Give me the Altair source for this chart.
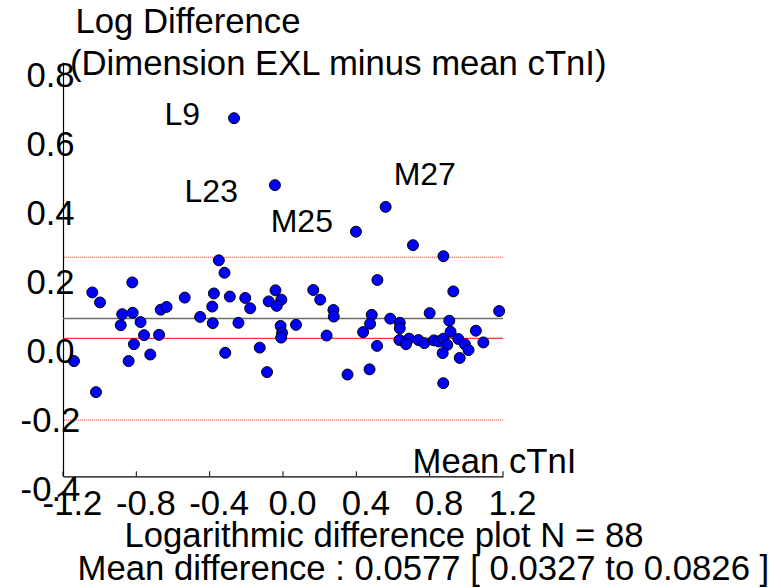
import altair as alt
import pandas as pd

# ---- data ----
mean_ctni = [
    -1.140, -1.020, -1.040, -0.998, -0.822, -0.877, -0.885, -0.820, -0.777, -0.758,
    -0.813, -0.842, -0.724, -0.676, -0.667, -0.635, -0.536, -0.452, -0.350, -0.319,
    -0.377, -0.386, -0.383, -0.315, -0.290, -0.206, -0.179, -0.243, -0.127, -0.087,
    -0.041, -0.078, -0.009, -0.034, -0.013, -0.005, -0.010, 0.071, 0.165, 0.203,
    0.238, 0.275, 0.277, 0.709, 0.875, 0.515, 0.929, 0.484, 0.475, 0.437,
    0.513, 0.352, 0.472, 0.585, 0.637, 0.637, 0.635, 0.688, 0.671, 0.739,
    0.771, 0.800, 0.823, 0.849, 0.875, 0.896, 0.871, 0.907, 0.914, 0.956,
    0.992, 1.012, 0.964, 0.874, 1.052, 1.179, 1.093,
    -0.267, -0.044, 0.398, 0.560,
]
log_diff = [
    -0.066, -0.156, 0.133, 0.104, 0.162, 0.070, 0.038, 0.074, 0.047, 0.009,
    -0.017, -0.066, -0.047, 0.010, 0.083, 0.091, 0.118, 0.062, 0.226, 0.190,
    0.130, 0.092, 0.044, -0.042, 0.121, 0.117, 0.087, 0.045, -0.027, -0.098,
    0.139, 0.107, 0.112, 0.094, 0.036, 0.016, 0.002, 0.039, 0.140, 0.112,
    0.008, 0.082, 0.063, 0.270, 0.238, 0.169, 0.136, 0.068, 0.042, 0.018,
    -0.022, -0.105, -0.090, 0.057, 0.045, 0.029, -0.005, -0.001, -0.017, -0.005,
    -0.014, 0.073, -0.006, -0.009, -0.001, -0.019, -0.043, 0.051, 0.019, -0.002,
    -0.017, -0.034, -0.057, -0.130, 0.022, 0.079, -0.012,
    0.638, 0.444, 0.309, 0.381,
]

outlier_names = ["L9", "L23", "M25", "M27"]
outlier_x = [-0.267, -0.044, 0.398, 0.560]
outlier_y = [0.638, 0.444, 0.309, 0.381]

x_ticks = [-1.2, -0.8, -0.4, 0.0, 0.4, 0.8, 1.2]
x_tick_labels = ["-1.2", "-0.8", "-0.4", "0.0", "0.4", "0.8", "1.2"]
y_ticks = [-0.4, -0.2, 0.0, 0.2, 0.4, 0.6, 0.8]
y_tick_labels = ["-0.4", "-0.2", "0.0", "0.2", "0.4", "0.6", "0.8"]

zero_line = [0.0]
mean_difference = [0.0577]
limit_lines = [0.235, -0.237]

y_title_lines = ["Log Difference", "(Dimension EXL minus mean cTnI)"]
x_title = "Mean cTnI"
caption_lines = [
    "Logarithmic difference plot N = 88",
    "Mean difference : 0.0577 [ 0.0327 to 0.0826 ]",
]

# ---- chart ----
FONT = "Liberation Sans"
FS = 34.7
W, H = 440, 414

xs = alt.Scale(domain=[-1.2, 1.2], nice=False, zero=False)
ys = alt.Scale(domain=[-0.4, 0.8], nice=False, zero=False)

pts = pd.DataFrame({"x": mean_ctni, "y": log_diff})
points = alt.Chart(pts).mark_circle(
    size=120, color="#0000ff", opacity=1, stroke="black", strokeWidth=1
).encode(
    x=alt.X("x:Q", scale=xs, axis=alt.Axis(labels=False, ticks=False, title=None,
                                           grid=False, domainColor="black", domainWidth=1.2)),
    y=alt.Y("y:Q", scale=ys, axis=alt.Axis(labels=False, ticks=False, title=None,
                                           grid=False, domainColor="black", domainWidth=1.2)),
)

def hline(values, **kw):
    return alt.Chart(pd.DataFrame({"v": values})).mark_rule(**kw).encode(
        y=alt.Y("v:Q", scale=ys)
    )

zero_rule = hline(zero_line, color="#ff0000", strokeWidth=1)
mean_rule = hline(mean_difference, color="#6e6e6e", strokeWidth=1.5)
limit_rule = hline(limit_lines, color="#ff4040", strokeWidth=1, strokeDash=[1, 1])

xt = pd.DataFrame({"v": x_ticks, "t": x_tick_labels})
x_tick_marks = alt.Chart(xt).mark_rule(color="black", strokeWidth=1).encode(
    x=alt.X("v:Q", scale=xs), y=alt.value(H - 5), y2=alt.value(H)
)
x_labels = alt.Chart(xt).mark_text(
    font=FONT, fontSize=FS, align="center", baseline="alphabetic", dx=9.5, color="black"
).encode(x=alt.X("v:Q", scale=xs), y=alt.value(452.7), text="t:N")

yt = pd.DataFrame({"v": y_ticks, "t": y_tick_labels})
y_labels = alt.Chart(yt).mark_text(
    font=FONT, fontSize=FS, align="center", baseline="alphabetic", dy=25, color="black"
).encode(y=alt.Y("v:Q", scale=ys), x=alt.value(-12.5), text="t:N")

od = pd.DataFrame({"name": outlier_names, "x": outlier_x, "y": outlier_y})
label_style = {
    "L9": dict(align="right", dx=-34, dy=7),
    "L23": dict(align="right", dx=-37, dy=17),
    "M25": dict(align="right", dx=-23, dy=0),
    "M27": dict(align="left", dx=8, dy=-22),
}
outlier_labels = [
    alt.Chart(od[od["name"] == n]).mark_text(
        font=FONT, fontSize=32, baseline="alphabetic", color="black", **st
    ).encode(x=alt.X("x:Q", scale=xs), y=alt.Y("y:Q", scale=ys), text="name:N")
    for n, st in label_style.items()
]

def free_text(txt, px, py):
    return alt.Chart(pd.DataFrame({"t": [txt]})).mark_text(
        font=FONT, fontSize=FS, align="left", baseline="alphabetic", color="black"
    ).encode(x=alt.value(px), y=alt.value(py), text="t:N")

texts = [
    free_text(y_title_lines[0], 12.5, -29.3),
    free_text(y_title_lines[1], 7, 12.7),
    free_text(x_title, 349.5, 410.7),
    free_text(caption_lines[0], 61.5, 484.7),
    free_text(caption_lines[1], 14.5, 517.7),
]

chart = alt.layer(
    limit_rule, mean_rule, zero_rule, points, x_tick_marks, x_labels, y_labels,
    *outlier_labels, *texts
).properties(
    width=W, height=H,
    autosize=alt.AutoSizeParams(type="none"),
    padding={"left": 63, "top": 62.3, "right": 781 - 63 - W, "bottom": 588 - 62.3 - H},
    background="white",
).configure_view(stroke=None)

chart.save("out.html", embed_options={"renderer": "svg", "actions": False})
